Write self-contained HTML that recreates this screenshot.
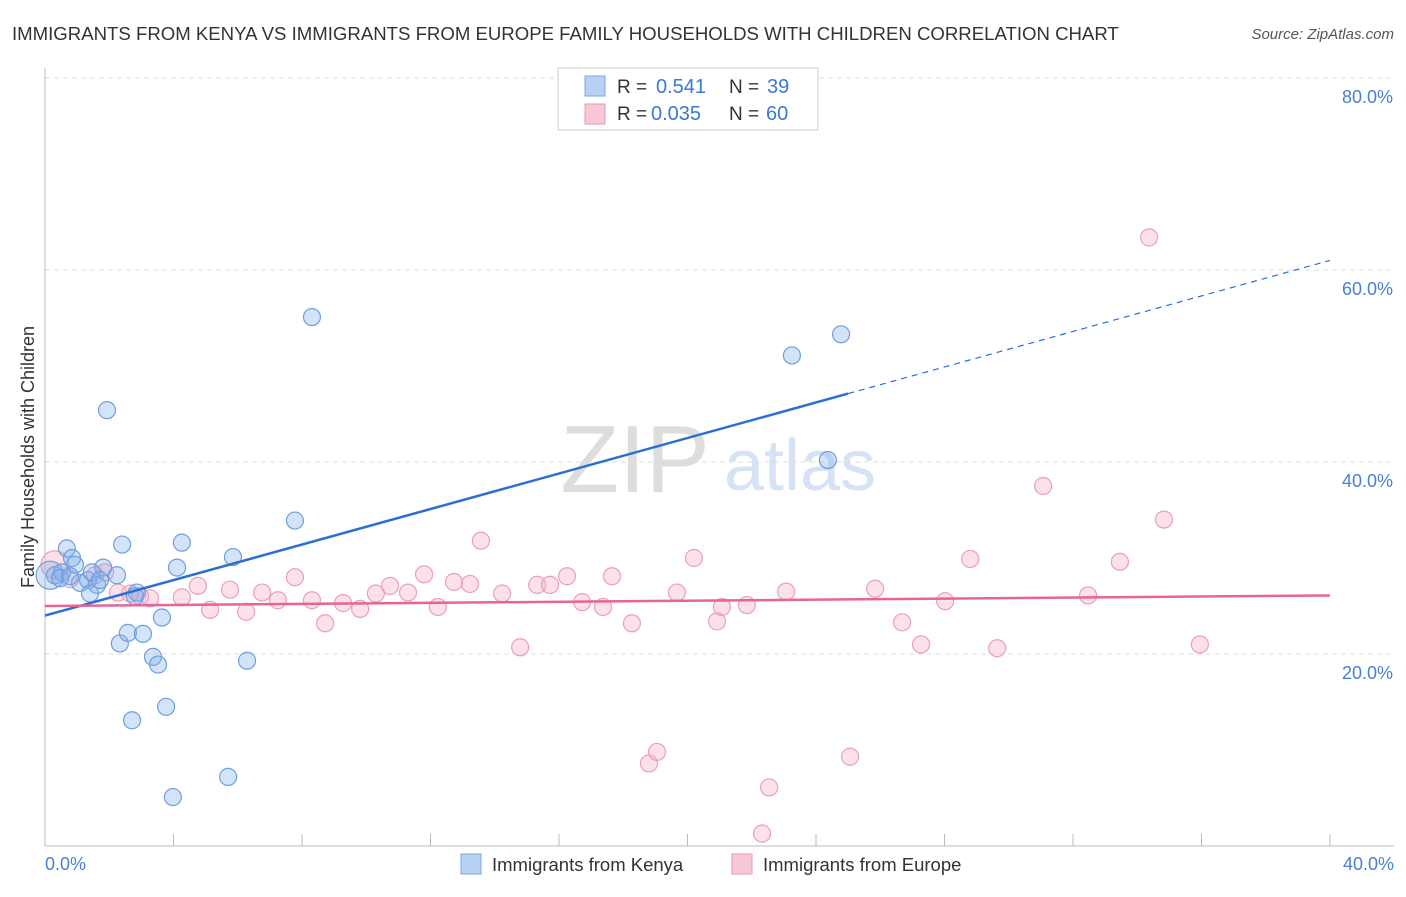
<!DOCTYPE html>
<html><head><meta charset="utf-8"><style>
body{margin:0;background:#fff;font-family:"Liberation Sans",sans-serif}
svg text{font-family:"Liberation Sans",sans-serif}
</style></head><body>
<svg id="c" width="1406" height="892">
<text x="12" y="40" font-size="18.6" fill="#333">IMMIGRANTS FROM KENYA VS IMMIGRANTS FROM EUROPE FAMILY HOUSEHOLDS WITH CHILDREN CORRELATION CHART</text>
<text x="1394" y="39" font-size="15" fill="#555" font-style="italic" text-anchor="end">Source: ZipAtlas.com</text>
<text x="635" y="492" font-size="96" fill="#ddd" font-family="Liberation Serif" text-anchor="middle">ZIP</text>
<text x="800" y="490" font-size="72" fill="#d5e3f5" text-anchor="middle">atlas</text>
<g id="grid"></g><g id="pts"></g><g id="lines"></g>
<text transform="translate(34,457) rotate(-90)" font-size="18" fill="#333" text-anchor="middle">Family Households with Children</text>
<text x="45" y="870" font-size="18" fill="#4a7fd4">0.0%</text>
<text x="1394" y="870" font-size="18" fill="#4a7fd4" text-anchor="end">40.0%</text>
<g>
<rect x="558" y="68" width="260" height="62" fill="#fff" stroke="#ccc"/>
<rect x="585" y="76" width="20" height="20" fill="#b8d1f3" stroke="#7aa6e0"/>
<rect x="585" y="104" width="20" height="20" fill="#f8c8d6" stroke="#e89ab2"/>
<text x="617" y="93" font-size="19" fill="#333">R =</text>
<text x="656" y="93" font-size="20" fill="#3a78d8">0.541</text>
<text x="729" y="93" font-size="19" fill="#333">N =</text>
<text x="767" y="93" font-size="20" fill="#3a78d8">39</text>
<text x="617" y="120" font-size="19" fill="#333">R =</text>
<text x="651" y="120" font-size="20" fill="#3a78d8">0.035</text>
<text x="729" y="120" font-size="19" fill="#333">N =</text>
<text x="766" y="120" font-size="20" fill="#3a78d8">60</text>
</g>
<g>
<rect x="461" y="854" width="20" height="20" fill="#b8d1f3" stroke="#7aa6e0"/>
<text x="492" y="871" font-size="18.5" fill="#333">Immigrants from Kenya</text>
<rect x="732" y="854" width="20" height="20" fill="#f8c8d6" stroke="#e89ab2"/>
<text x="763" y="871" font-size="18.5" fill="#333">Immigrants from Europe</text>
</g>
</svg>
<script>
const yTicks=[20,40,60,80];
const kenyaX=[0.16,0.31,0.53,0.68,0.84,0.93,1.09,1.34,1.46,1.62,1.81,1.93,2.24,2.33,2.40,2.58,2.71,2.86,3.05,3.36,3.52,3.64,3.77,3.98,4.11,4.26,5.70,5.85,6.29,7.78,8.31,23.25,24.37,24.78,1.40,0.47,1.71,2.80,0.78];
const kenyaY=[28.2,28.2,28.5,31.0,30.0,29.3,27.4,27.7,28.5,27.2,29.0,45.4,28.2,21.1,31.4,22.2,13.1,26.4,22.1,19.7,18.9,23.8,14.5,5.1,29.0,31.6,7.2,30.1,19.3,33.9,55.1,51.1,40.2,53.3,26.3,27.9,27.7,26.0,28.1];
const europeX=[0.31,0.78,1.56,1.87,2.27,2.65,2.96,3.27,4.26,4.76,5.14,5.76,6.26,6.76,7.25,7.78,8.31,8.72,9.28,9.81,10.30,10.74,11.30,11.80,12.23,12.73,13.23,13.57,14.23,14.79,15.32,15.72,16.25,16.72,17.37,17.65,18.27,18.80,19.05,19.67,20.20,20.92,21.07,21.85,22.54,23.07,25.06,25.84,26.68,27.27,28.02,28.80,29.64,31.07,32.47,33.46,34.37,34.83,35.95,22.32];
const europeY=[29.3,27.8,28.2,28.5,26.4,26.3,26.0,25.8,25.9,27.1,24.6,26.7,24.4,26.4,25.6,28.0,25.6,23.2,25.3,24.7,26.3,27.1,26.4,28.3,24.9,27.5,27.3,31.8,26.3,20.7,27.2,27.2,28.1,25.4,24.9,28.1,23.2,8.6,9.8,26.4,30.0,23.4,24.9,25.1,6.1,26.5,9.3,26.8,23.3,21.0,25.5,29.9,20.6,37.5,26.1,29.6,63.4,34.0,21.0,1.3];
const kenyaTrend=[24.0,61.0];
const europeTrend=[25.0,26.1];
const NS='http://www.w3.org/2000/svg';
const sx=v=>45+v/40*1285, sy=v=>846-v*9.6;
function mk(t,a,p){const e=document.createElementNS(NS,t);for(const k in a)e.setAttribute(k,a[k]);p.appendChild(e);return e;}
const g=document.getElementById('grid');
yTicks.forEach(t=>{
 const l=mk('line',{x1:45,x2:1394,y1:sy(t),y2:sy(t),stroke:'#ddd','stroke-dasharray':'5,4'},g);
 
 
 const tx=mk('text',{x:1393,y:sy(t)+25,'font-size':18,fill:'#4a7fd4','text-anchor':'end'},g);tx.textContent=t.toFixed(1)+'%';
 
 
});
const ax=mk('line',{x1:45,x2:45,y1:68,y2:846,stroke:'#bbb'},g);


const bx=mk('line',{x1:45,x2:1394,y1:846,y2:846,stroke:'#bbb'},g);


for(let i=0;i<=10;i++){const t=mk('line',{x1:sx(i*4),x2:sx(i*4),y1:846,y2:834,stroke:'#bbb'},g);
 
 }
const P=document.getElementById('pts');
europeX.forEach((x,i)=>{const c=mk('circle',{cx:sx(x),cy:sy(europeY[i]),r:i==0?14:8.5,fill:'rgba(245,170,195,0.35)',stroke:'#eaa0b8','stroke-width':1.2},P);
 
 });
kenyaX.forEach((x,i)=>{const c=mk('circle',{cx:sx(x),cy:sy(kenyaY[i]),r:i==0?14:8.5,fill:'rgba(130,175,235,0.35)',stroke:'#6f9fdf','stroke-width':1.2},P);
 
 });
const L=document.getElementById('lines');
const kAt=x=>kenyaTrend[0]+(kenyaTrend[1]-kenyaTrend[0])*x/40;
const k1=mk('line',{x1:sx(0),y1:sy(kAt(0)),x2:sx(25),y2:sy(kAt(25)),stroke:'#2a6fd6','stroke-width':2.5},L);


const k2=mk('line',{x1:sx(25),y1:sy(kAt(25)),x2:sx(40),y2:sy(kAt(40)),stroke:'#2a6fd6','stroke-width':1.2,'stroke-dasharray':'6,5'},L);


const e1=mk('line',{x1:sx(0),y1:sy(europeTrend[0]),x2:sx(40),y2:sy(europeTrend[1]),stroke:'#e6649a','stroke-width':2.5},L);


</script>
</body></html>
